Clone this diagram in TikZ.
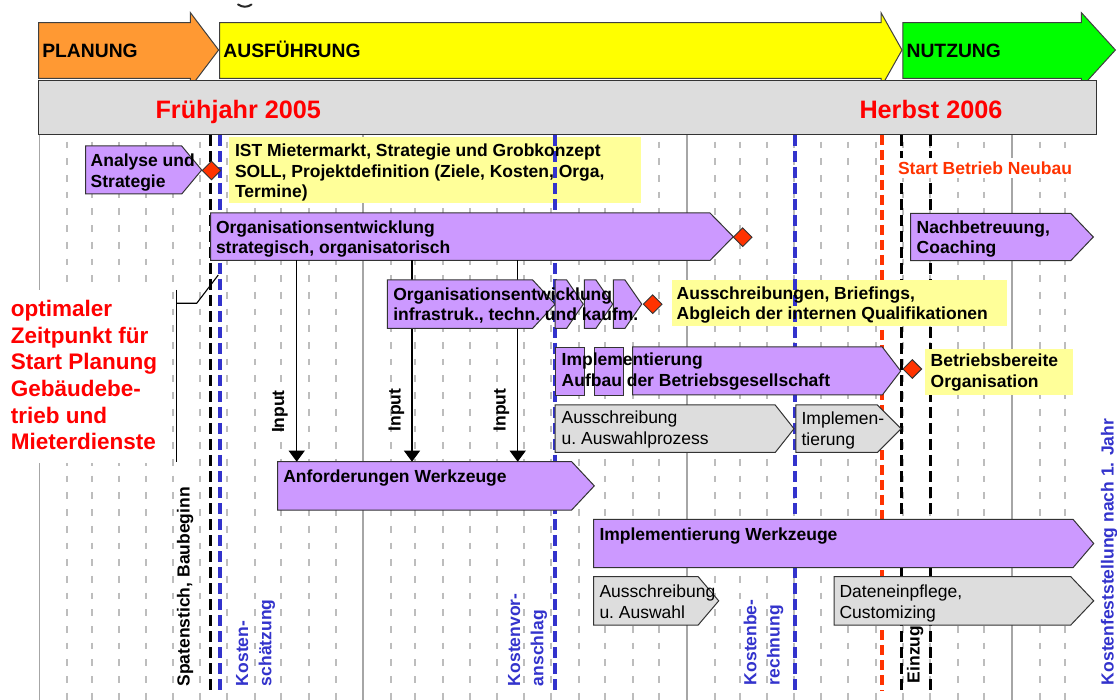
\documentclass[tikz,border=0pt]{standalone}
\usepackage{fontspec}
\setmainfont{Liberation Sans}
\usetikzlibrary{shapes.geometric,arrows.meta}

\definecolor{taskfill}{HTML}{CC99FF}
\definecolor{notefill}{HTML}{FFFF99}
\definecolor{subfill}{HTML}{DDDDDD}
\definecolor{edge}{HTML}{333333}
\definecolor{msred}{HTML}{FF3300}
\definecolor{costblue}{HTML}{3333CC}
\definecolor{gridsolid}{HTML}{A6A6A6}
\definecolor{griddash}{HTML}{BDBDBD}
\definecolor{planorange}{HTML}{FF9933}
\definecolor{execyellow}{HTML}{FFFF00}
\definecolor{usegreen}{HTML}{00FF00}
\definecolor{barfill}{HTML}{DDDDDD}
\definecolor{alertred}{HTML}{FF0000}

% multi-line text whose baseline is that of its first line
\newcommand\ml[1]{\vtop{\halign{##\hfil\cr#1\crcr}}}

% arrow-shaped bar: name, style, left, top, body right, bottom, tip
\newcommand\arrowbox[7]{%
  \draw[#2] (#3,#4) -- (#5,#4) -- (#7,{(#4+#6)/2}) -- (#5,#6) -- (#3,#6) -- cycle;
  \node[inner sep=0pt, outer sep=0pt, minimum width=#5pt-#3pt,
        minimum height=#6pt-#4pt, anchor=north west] (#1) at (#3,#4) {};
}

\tikzset{
  tb/.style={font=\fontsize{17.5}{20.4}\selectfont\bfseries, inner sep=0pt, outer sep=0pt, text=black},
  tn/.style={font=\fontsize{17.5}{21}\selectfont, inner sep=0pt, outer sep=0pt, text=black},
  tbr/.style={font=\fontsize{17.5}{23.3}\selectfont\bfseries, inner sep=0pt, outer sep=0pt, rotate=90, anchor=base west},
  phasetxt/.style={font=\fontsize{19.3}{22}\selectfont\bfseries, inner sep=0pt, text=black},
  datetxt/.style={font=\fontsize{25.2}{28}\selectfont\bfseries, inner sep=0pt, text=alertred},
  task/.style={fill=taskfill, draw=edge, line width=1pt},
  sub/.style={fill=subfill, draw=edge, line width=1pt},
  taskrect/.style={rectangle, fill=taskfill, draw=edge, line width=1pt, inner sep=0pt, anchor=north west},
  note/.style={rectangle, fill=notefill, draw=none, inner sep=0pt, outer sep=0pt, anchor=north west},
  ms/.style={diamond, aspect=1, fill=msred, draw=edge, line width=0.9pt, minimum width=19pt, minimum height=19pt, inner sep=0pt},
  phase/.style={draw=black!75, line width=1pt},
  gridm/.style={griddash, line width=2pt, dash pattern=on 6.7pt off 10pt},
  gridy/.style={gridsolid, line width=1.8pt},
  blkline/.style={black, line width=3.1pt, dash pattern=on 11pt off 5pt},
  blueline/.style={costblue, line width=3.1pt, dash pattern=on 11pt off 5pt},
  redline/.style={msred, line width=3.1pt, dash pattern=on 10pt off 5pt},
  inarrow/.style={black, line width=1.1pt, -{Triangle[width=16pt,length=11pt]}},
  callout/.style={black, line width=1.1pt},
}

\begin{document}
\begin{tikzpicture}[x=1pt,y=-1pt]
\useasboundingbox (0,0) rectangle (1117,700);
\fill[white] (0,0) rectangle (1117,700);

% month grid (dashed) and year grid (solid)
\foreach \ys/\yl in {39.5/323.5,363/324,687/325}{
  \foreach \d in {31,59,90,120,151,181,212,243,273,304,334}{
    \draw[gridm] ({\ys+\d/365*\yl},125) -- ({\ys+\d/365*\yl},700);
  }
}
\foreach \x in {1039.5,1064.5} \draw[gridm] (\x,125) -- (\x,700);
\foreach \x in {39.5,363,687,1012} \draw[gridy] (\x,125) -- (\x,700);

% fragment of a heading cut off at the top edge
\draw[line width=2pt, black!85, line cap=round] (238,4.5) .. controls (243,7.5) and (247,7.5) .. (251.5,4.5);

% project phases
\draw[phase, fill=planorange] (38.6,22.7) -- (190.4,22.7) -- (190.4,12.7) -- (218.6,50)
  -- (190.4,87.3) -- (190.4,78.3) -- (38.6,78.3) -- cycle;
\draw[phase, fill=execyellow] (219.6,22.7) -- (881,22.7) -- (881,12.7) -- (902,50)
  -- (881,87.3) -- (881,78.3) -- (219.6,78.3) -- cycle;
\draw[phase, fill=usegreen] (902.9,22.7) -- (1081.4,22.7) -- (1081.4,12.7) -- (1115.4,50)
  -- (1081.4,87.3) -- (1081.4,78.3) -- (902.9,78.3) -- cycle;
\node[phasetxt, anchor=base west] (planung) at (42.1,57.5) {PLANUNG};
\node[phasetxt, anchor=base west] (ausf) at (223.2,57.5) {AUSFÜHRUNG};
\node[phasetxt, anchor=base west] (nutzung) at (906.4,57.5) {NUTZUNG};

% date bar
\node[rectangle, fill=barfill, draw=edge, line width=1pt, inner sep=0pt, anchor=north west,
      minimum width=1058.2pt, minimum height=54pt] (bar) at (37.5,80) {};
\node[datetxt, anchor=base west] (fj) at (155.4,118.5) {Frühjahr 2005};
\node[datetxt, anchor=base west] (hb) at (859.3,118.5) {Herbst 2006};

% milestone lines
\coordinate (l1) at (210.7,691);
\coordinate (l2) at (220,691);
\coordinate (l3) at (555,691);
\coordinate (l4) at (795,691);
\coordinate (l5) at (882,691);
\coordinate (l6) at (901.5,691);
\coordinate (l7) at (930.3,691);
\draw[blkline] (bar.south -| l1) -- (l1);
\draw[blueline] (bar.south -| l2) -- (l2);
\draw[redline] (bar.south -| l5) -- (l5);
\draw[blkline] (bar.south -| l6) -- (l6);
\draw[blkline] (bar.south -| l7) -- (l7);

% red remark with its callout
\node[rectangle, fill=white, inner sep=0pt, anchor=north west, minimum width=168pt, minimum height=173pt] (optbg) at (0,290) {};
\node[font=\fontsize{22.5}{26.6}\selectfont\bfseries, text=alertred, inner sep=0pt, anchor=base west] (opt) at (10.7,316.7)
  {\ml{optimaler\cr Zeitpunkt für\cr Start Planung\cr Gebäudebe-\cr trieb und\cr Mieterdienste}};
\coordinate (b1) at (176.7,290);
\coordinate (b2) at (176.7,462);
\coordinate (b3) at (176.7,303.3);
\coordinate (b4) at (196.7,303.3);
\coordinate (b5) at (218.3,275);
\draw[callout] (b1) -- (b2);
\draw[callout] (b3) -- (b4) -- (b5);

\node[tb, text=msred, fill=white, inner xsep=1pt, inner ysep=4pt, anchor=base west] (start) at (897,174.3) {Start Betrieb Neubau};

% notes
\node[note, minimum width=412pt, minimum height=66pt] (ist) at (229,137) {};
\node[note, minimum width=335pt, minimum height=45.7pt] (brief) at (671.7,280) {};
\node[note, minimum width=148.3pt, minimum height=46pt] (bereit) at (925,349) {};

% cost estimate milestones run over the notes
\draw[blueline] (bar.south -| l3) -- (l3);
\draw[blueline] (bar.south -| l4) -- (l4);

% work packages
\arrowbox{analyse}{task}{85.7}{146}{181.7}{194}{201.7}
\arrowbox{org}{task}{210.7}{213}{710}{260.5}{733.3}
\arrowbox{nach}{task}{910.7}{213.3}{1070.7}{260.7}{1093.3}
\arrowbox{anf}{task}{277.7}{461.7}{571.7}{510}{594.3}

% inputs from the organisational development into the tool requirements
\coordinate (ia) at (296.7,0);
\coordinate (ib) at (412,0);
\coordinate (ic) at (517.7,0);
\draw[inarrow] (org.south -| ia) -- (anf.north -| ia);
\draw[inarrow] (org.south -| ib) -- (anf.north -| ib);
\draw[inarrow] (org.south -| ic) -- (anf.north -| ic);

\arrowbox{inf1}{task}{387.3}{280}{532.7}{328.3}{555}
\arrowbox{inf2}{task}{555}{280}{566.7}{328.3}{583.3}
\arrowbox{inf3}{task}{584.3}{280}{596}{328.3}{612.7}
\arrowbox{inf4}{task}{613.3}{280}{625}{328.3}{641.7}

\node[taskrect, minimum width=29.3pt, minimum height=48pt] (imp1) at (555,347) {};
\node[taskrect, minimum width=28.4pt, minimum height=48pt] (imp2) at (594.3,347) {};
\arrowbox{imp3}{task}{632.7}{347}{882.3}{395}{900.7}

\arrowbox{aus1}{sub}{555}{405}{775.2}{452.5}{794}
\arrowbox{impg}{sub}{795.8}{405}{877.3}{452.5}{901.2}

\arrowbox{implw}{task}{593.7}{519.3}{1073}{567.7}{1093.7}
\arrowbox{aus2}{sub}{593.7}{576.7}{698.2}{625}{718.7}
\arrowbox{daten}{sub}{834.1}{576.7}{1070.8}{625}{1093.7}

% milestones
\node[ms] (m1) at (211.5,170.5) {};
\node[ms] (m2) at (742.7,237.2) {};
\node[ms] (m3) at (652.7,304.2) {};
\node[ms] (m4) at (912.3,369) {};

% texts
\node[tb, anchor=base west] (analyse-t) at (90.7,166.7) {\ml{Analyse und\cr Strategie}};
\node[tb, anchor=base west] (ist-t) at (235,157) {\ml{IST Mietermarkt, Strategie und Grobkonzept\cr SOLL, Projektdefinition (Ziele, Kosten, Orga,\cr Termine)}};
\node[tb, anchor=base west] (org-t) at (216,233.2) {\ml{Organisationsentwicklung\cr strategisch, organisatorisch}};
\node[tb, anchor=base west] (nach-t) at (916.7,233.3) {\ml{Nachbetreuung,\cr Coaching}};
\node[tb, anchor=base west] (inf-t) at (393.3,300.3) {\ml{Organisationsentwicklung\cr infrastruk., techn.\ und kaufm.}};
\node[tb, anchor=base west] (brief-t) at (676.7,299.3) {\ml{Ausschreibungen, Briefings,\cr Abgleich der internen Qualifikationen}};
\node[tb, anchor=base west] (imp-t) at (561.7,366) {\ml{Implementierung\cr Aufbau der Betriebsgesellschaft}};
\node[tb, anchor=base west] (bereit-t) at (930.7,367) {\ml{Betriebsbereite\cr Organisation}};
\node[tn, anchor=base west] (aus1-t) at (561.7,423.5) {\ml{Ausschreibung\cr u.\ Auswahlprozess}};
\node[tn, anchor=base west] (impg-t) at (801.6,424.5) {\ml{Implemen-\cr tierung}};
\node[tb, anchor=base west] (anf-t) at (283.3,482.7) {Anforderungen Werkzeuge};
\node[tb, anchor=base west] (implw-t) at (599.5,540) {Implementierung Werkzeuge};
\node[tn, anchor=base west] (aus2-t) at (599.5,597.7) {\ml{Ausschreibung\cr u.\ Auswahl}};
\node[tn, anchor=base west] (daten-t) at (839.6,597.7) {\ml{Dateneinpflege,\cr Customizing}};

\node[tbr] (in1) at (284.2,433) {Input};
\node[tbr] (in2) at (400.5,431.5) {Input};
\node[tbr] (in3) at (505.5,431.5) {Input};

% labels of the milestone lines
\node[tbr] (spaten) at (189.5,686.5) {Spatenstich, Baubeginn};
\node[tbr, text=costblue] (kschaetz) at (248,686) {\ml{Kosten-\cr schätzung}};
\node[tbr, text=costblue] (kvor) at (520,686) {\ml{Kostenvor-\cr anschlag}};
\node[tbr, text=costblue] (kber) at (756.4,685) {\ml{Kostenbe-\cr rechnung}};
\node[tbr] (einzug) at (919.5,683) {Einzug};
\node[tbr, text=costblue] (kfest) at (1113.5,685) {Kostenfeststellung nach 1. Jahr};
\end{tikzpicture}
\end{document}
